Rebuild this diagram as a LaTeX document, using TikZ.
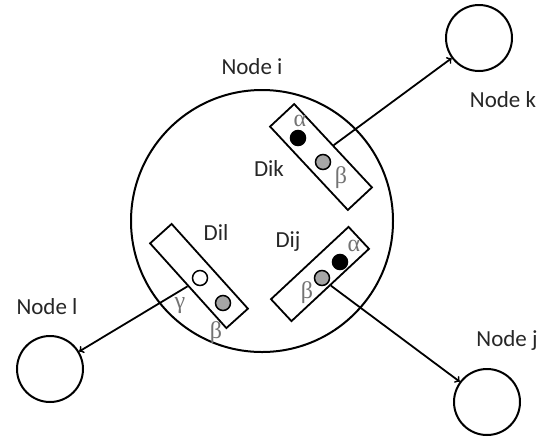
\documentclass[tikz,border=0pt]{standalone}
\usepackage{fontspec}
\setmainfont{Carlito}
\newfontfamily\greekfont{Liberation Serif}
\begin{document}
\begin{tikzpicture}[x=1pt,y=-1pt,
    peer/.style={draw,circle,line width=2pt,minimum size=66pt,inner sep=0pt},
    buffer/.style={draw,rectangle,line width=1.8pt,inner sep=0pt},
    dot/.style={draw,circle,line width=1.5pt,minimum size=15pt,inner sep=0pt},
    lbl/.style={font=\fontsize{23}{25}\selectfont,text=black!85},
    grk/.style={text=black!55,font=\greekfont\fontsize{24}{26}\selectfont},
    link/.style={line width=1.8pt,->}]
    \useasboundingbox (0,0) rectangle (543,440);
    %% node i
    \node[draw,circle,line width=2pt,minimum size=262pt,inner sep=0pt] (i) at (262,221) {};
    \node[lbl] (ilbl) at (252,67) {Node i};
    %% neighbours
    \node[peer] (k) at (479,38) {};
    \node[lbl] (klbl) at (503,100) {Node k};
    \node[peer] (j) at (487,402) {};
    \node[lbl] (jlbl) at (507,340) {Node j};
    \node[peer] (l) at (50,369) {};
    \node[lbl] (llbl) at (47,307) {Node l};
    %% buffer to k
    \node[buffer,minimum width=114pt,minimum height=33pt,rotate=-47] (dik) at (321,157) {};
    \node[dot,fill=black] (dika) at (298,138) {};
    \node[dot,fill=black!35] (dikb) at (323,162) {};
    \node[grk] at (300,121) {α};
    \node[grk] at (341,178) {β};
    \node[lbl] (diklbl) at (269,169) {Dik};
    %% buffer to l
    \node[buffer,minimum width=114pt,minimum height=29pt,rotate=-48] (dil) at (199,276) {};
    \node[dot,fill=white] (dilg) at (200,278) {};
    \node[dot,fill=black!35] (dilb) at (223,303) {};
    \node[grk] at (180,306) {γ};
    \node[grk] at (216,333) {β};
    \node[lbl] (dillbl) at (216,233) {Dil};
    %% buffer to j
    \node[buffer,minimum width=106pt,minimum height=30pt,rotate=43] (dij) at (320,274) {};
    \node[dot,fill=black] (dija) at (340,262) {};
    \node[dot,fill=black!35] (dijb) at (322,278) {};
    \node[grk] at (354,246) {α};
    \node[grk] at (307,293) {β};
    \node[lbl] (dijlbl) at (288,242) {Dij};
    %% links
    \draw[link] (dik.north) -- (k);
    \draw[link] (dil.south) -- (l);
    \draw[link] (dij.south) -- (j);
\end{tikzpicture}
\end{document}
